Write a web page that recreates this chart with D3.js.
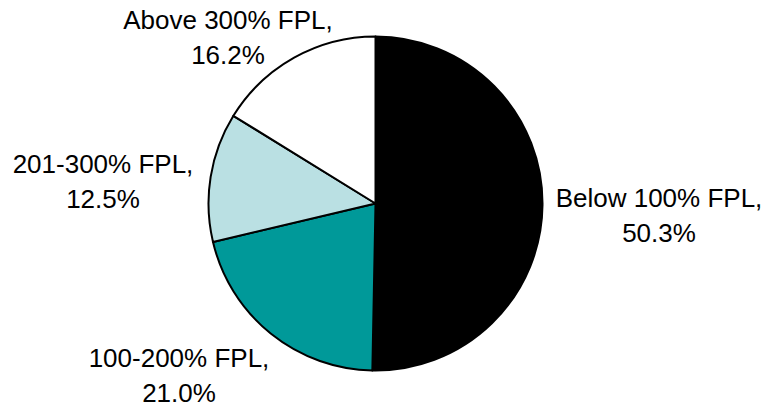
<!DOCTYPE html>
<html>
<head>
<meta charset="utf-8">
<script src="https://cdn.jsdelivr.net/npm/d3@7"></script>
<style>
  body { margin: 0; background: #fff; }
  svg { display: block; }
  text { font-family: "Liberation Sans", Arial, sans-serif; font-size: 26px; fill: #000; }
</style>
</head>
<body>
<svg class="chart"></svg>
<script>
// share of people by income group (FPL)
var groups = ["Below 100% FPL", "100-200% FPL", "201-300% FPL", "Above 300% FPL"];
var shares = [50.3, 21.0, 12.5, 16.2];
var colors = ["#000000", "#009999", "#BAE0E3", "#FFFFFF"];

var width = 766;
var height = 408;
var cx = 375.5, cy = 203.5;
var radius = 167;

// where each two-line label sits (center of first line baseline)
var labelPos = [[659, 207], [179, 367], [103, 173], [228, 29]];
var lineGap = 35;

var svg = d3.select(".chart")
            .attr("width", width)
            .attr("height", height);

var pie = d3.pie()
            .sort(null)
            .value(function(d) { return d; });

var arc = d3.arc()
            .innerRadius(0)
            .outerRadius(radius);

var g = svg.append("g")
           .attr("transform", "translate(" + cx + "," + cy + ")");

g.selectAll("path")
    .data(pie(shares))
    .enter()
    .append("path")
    .attr("d", arc)
    .attr("fill", function(d, i) { return colors[i]; })
    .attr("stroke", "#000")
    .attr("stroke-width", 2)
    .attr("stroke-linejoin", "round");

var labels = svg.selectAll(".lbl")
    .data(groups)
    .enter()
    .append("text")
    .attr("class", "lbl")
    .attr("text-anchor", "middle")
    .attr("x", function(d, i) { return labelPos[i][0]; })
    .attr("y", function(d, i) { return labelPos[i][1]; });

labels.append("tspan")
    .attr("x", function(d, i) { return labelPos[i][0]; })
    .text(function(d) { return d + ","; });

labels.append("tspan")
    .attr("x", function(d, i) { return labelPos[i][0]; })
    .attr("dy", lineGap)
    .text(function(d, i) { return shares[i].toFixed(1) + "%"; });
</script>
</body>
</html>
